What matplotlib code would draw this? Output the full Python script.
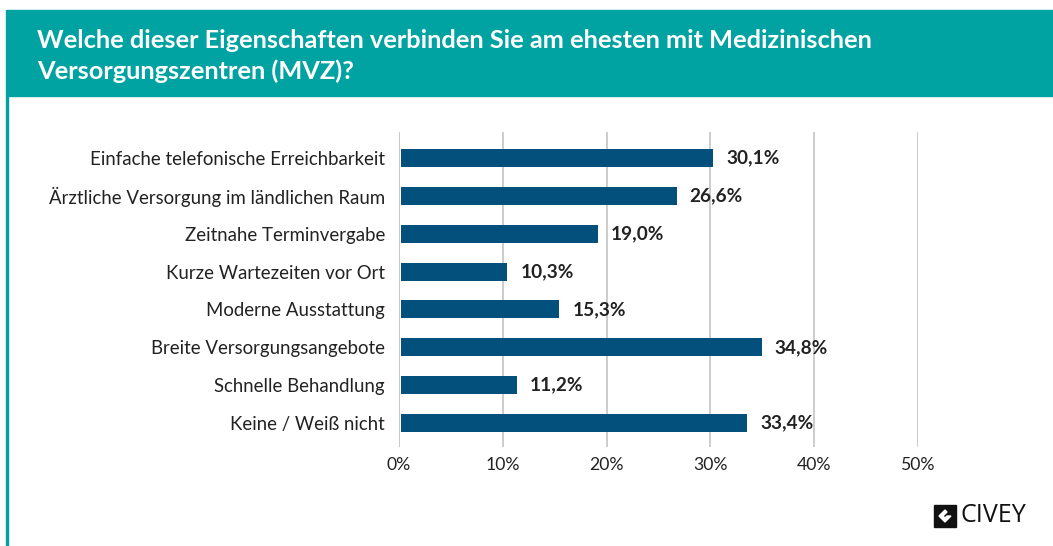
import matplotlib
matplotlib.use("Agg")
import matplotlib.pyplot as plt
from matplotlib.patches import Rectangle, Polygon

TITLE = "Welche dieser Eigenschaften verbinden Sie am ehesten mit Medizinischen\nVersorgungszentren (MVZ)?"
CATEGORIES = [
    "Einfache telefonische Erreichbarkeit",
    "Ärztliche Versorgung im ländlichen Raum",
    "Zeitnahe Terminvergabe",
    "Kurze Wartezeiten vor Ort",
    "Moderne Ausstattung",
    "Breite Versorgungsangebote",
    "Schnelle Behandlung",
    "Keine / Weiß nicht",
]
VALUES = [30.1, 26.6, 19.0, 10.3, 15.3, 34.8, 11.2, 33.4]
X_TICKS = [0, 10, 20, 30, 40, 50]

TEAL = "#00A3A1"
BAR = "#03507D"
GRID = "#C8C8C8"
FONT = ["Lato", "DejaVu Sans"]

W, H = 1053, 546
fig = plt.figure(figsize=(W / 100, H / 100), dpi=100)
plt.rcParams["font.family"] = FONT

# header band + left border
fig.patches.append(Rectangle((6 / W, 1 - 96 / H), 1 - 6 / W, 86 / H,
                             transform=fig.transFigure, color=TEAL, zorder=0))
fig.patches.append(Rectangle((6 / W, 0), 1.6 / W, 1 - 96 / H,
                             transform=fig.transFigure, color=TEAL, zorder=0))
fig.text(37 / W, 1 - 56 / H, TITLE, color="white", fontsize=18.3, fontweight="bold",
         va="center", ha="left", linespacing=1.35)

# axes: x 399..918 px, y 132..447 px
ax = fig.add_axes([399 / W, 1 - 447 / H, (918 - 399) / W, (447 - 132) / H])
y = list(range(len(CATEGORIES)))
ax.barh(y, VALUES, height=0.475, color=BAR, zorder=3, left=0.15)
ax.set_ylim(7.634, -0.687)
ax.set_xlim(0, 50)
ax.set_xticks(X_TICKS)
ax.set_xticklabels([f"{t}%" for t in X_TICKS], fontsize=12.7, color="#222222")
ax.set_yticks(y)
ax.set_yticklabels(CATEGORIES, fontsize=13.4, color="#222222")
ax.tick_params(axis="both", length=0)
ax.tick_params(axis="y", pad=10)
ax.tick_params(axis="x", pad=7)
ax.grid(axis="x", color=GRID, linewidth=1.3, zorder=0)
for s in ax.spines.values():
    s.set_visible(False)
ax.axvline(0, color=GRID, linewidth=1.3, zorder=1)

for yi, v in zip(y, VALUES):
    ax.text(v + 1.4, yi, f"{v:.1f}%".replace(".", ","), va="center", ha="left",
            fontsize=13.7, fontweight="bold", color="#222222")

# CIVEY logo
lx, ly, ls = 934 / W, 1 - 527 / H, 22
fig.patches.append(Rectangle((lx, ly), ls / W, ls / H, transform=fig.transFigure,
                             color="#111111", zorder=5))
fig.patches.append(Polygon([(lx + 5 / W, ly + 11 / H), (lx + 11 / W, ly + 5 / H),
                            (lx + 17 / W, ly + 11 / H), (lx + 13 / W, ly + 11 / H),
                            (lx + 11 / W, ly + 9 / H), (lx + 9 / W, ly + 11 / H),
                            (lx + 13 / W, ly + 15 / H), (lx + 11 / W, ly + 17 / H)],
                           closed=True, transform=fig.transFigure, color="white", zorder=6))
fig.text(960 / W, 1 - 516 / H, "CIVEY", fontsize=18, color="#111111",
         va="center", ha="left", family=["Open Sans", "DejaVu Sans"])

fig.savefig("out.png", dpi=100)
